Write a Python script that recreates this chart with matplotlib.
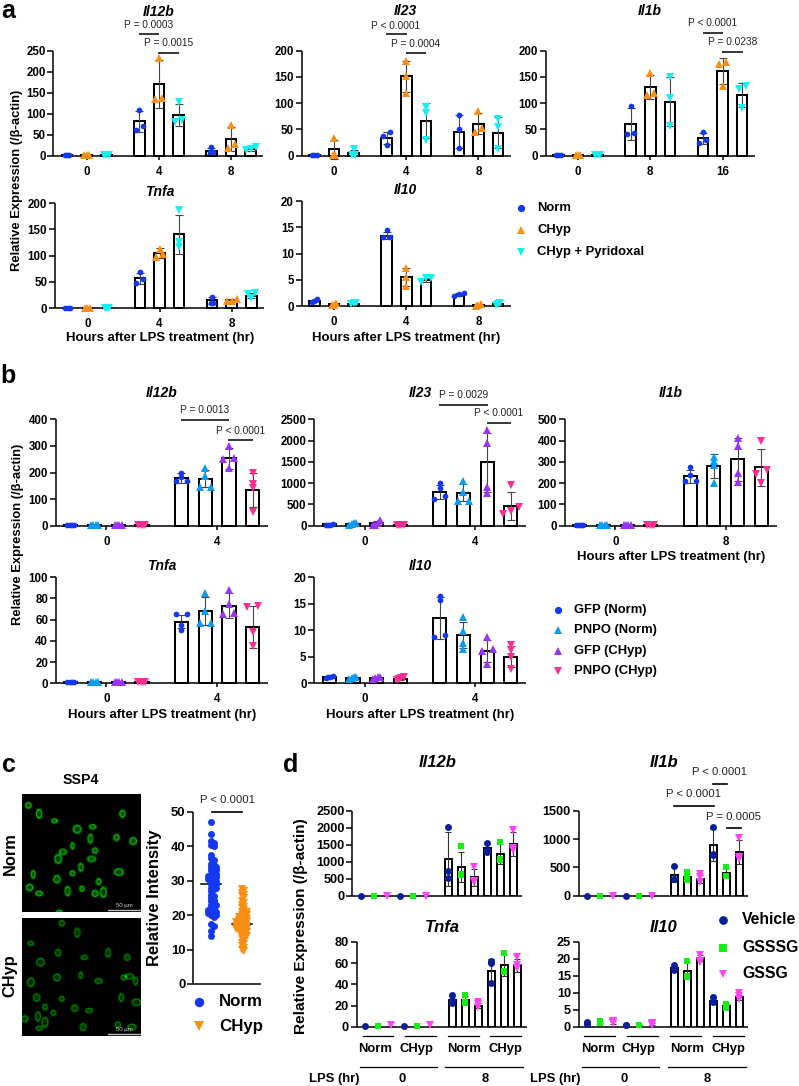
import numpy as np
import matplotlib
matplotlib.use("Agg")
import matplotlib.pyplot as plt

plt.rcParams["font.family"] = ["Liberation Sans", "DejaVu Sans"]

W, H = 799, 1086

# colours / markers
a_colors = ["#1438f0", "#f78f14", "#14f0f0"]
a_markers = ["o", "^", "v"]
a_labels = ["Norm", "CHyp", "CHyp + Pyridoxal"]
b_colors = ["#1438f0", "#0a9bf5", "#9933f5", "#ff2d92"]
b_markers = ["o", "^", "^", "v"]
b_labels = ["GFP (Norm)", "PNPO (Norm)", "GFP (CHyp)", "PNPO (CHyp)"]
d_colors = ["#0a1f96", "#14f014", "#ff44f5"]
d_markers = ["o", "s", "v"]
d_labels = ["Vehicle", "GSSSG", "GSSG"]

# panel a, values per hour group then per condition
a_il12b_means = [[1, 1, 2], [82, 170, 97], [12, 40, 15]]
a_il12b_errs = [[0, 0, 0], [25, 57, 27], [7, 28, 4]]
a_il12b_pts = [[[1, 1, 1], [0.5, 0.5, 0.5], [1, 1, 1]],
               [[108, 70, 62], [232, 138, 135], [128, 84, 80]],
               [[20, 8, 8], [72, 27, 18], [20, 16, 13]]]
a_il23_means = [[1, 12, 5], [34, 151, 67], [46, 61, 44]]
a_il23_errs = [[0, 18, 6], [12, 30, 34], [32, 20, 29]]
a_il23_pts = [[[1, 1, 1], [33, 1, 1], [12, 1, 2]],
              [[45, 38, 21], [180, 152, 119], [93, 82, 30]],
              [[78, 50, 14], [85, 52, 46], [70, 55, 12]]]
a_il1b_means = [[1, 1, 1], [60, 131, 103], [33, 162, 115]]
a_il1b_errs = [[0, 0, 0], [30, 23, 46], [11, 25, 23]]
a_il1b_pts = [[[1, 1, 1], [1, 1, 1], [1, 1, 1]],
              [[95, 44, 42], [158, 119, 115], [149, 110, 57]],
              [[46, 30, 25], [178, 175, 133], [133, 128, 91]]]
a_tnfa_means = [[1, 1, 1], [57, 105, 141], [15, 15, 24]]
a_tnfa_errs = [[0, 0, 0], [10, 9, 37], [6, 3, 5]]
a_tnfa_pts = [[[1, 1, 1], [1, 1, 1], [1, 1, 1]],
              [[68, 55, 49], [113, 104, 98], [186, 125, 117]],
              [[22, 11, 11], [18, 14, 14], [29, 28, 20]]]
a_il10_means = [[1, 0.4, 0.5], [13.4, 5.6, 5], [2.2, 0.2, 0.4]]
a_il10_errs = [[0.2, 0.1, 0.1], [0.7, 1.7, 0.4], [0.3, 0.1, 0.1]]
a_il10_pts = [[[1.4, 1.1, 0.8], [0.6, 0.3, 0.3], [0.7, 0.6, 0.5]],
              [[14.4, 13.2, 13.1], [7.3, 5.6, 3.9], [5.4, 5.3, 4.6]],
              [[2.6, 2.3, 2.0], [0.4, 0.2, 0.1], [0.6, 0.4, 0.3]]]

# panel b
b_il12b_means = [[1, 1, 1, 1], [179, 176, 253, 134]]
b_il12b_errs = [[0, 0, 0, 0], [18, 32, 38, 65]]
b_il12b_pts = [[[1, 1, 1, 1], [1, 1, 1, 1], [1, 1, 1, 1], [1, 1, 1, 1]],
               [[200, 184, 168, 168], [218, 185, 145, 145], [300, 253, 250, 218], [200, 158, 142, 50]]]
b_il23_means = [[30, 50, 60, 10], [790, 770, 1490, 470]]
b_il23_errs = [[15, 25, 50, 5], [170, 200, 690, 330]]
b_il23_pts = [[[50, 20, 20, 15], [70, 60, 40, 10], [130, 60, 20, 10], [10, 10, 10, 10]],
              [[1010, 880, 690, 620], [1050, 800, 590, 590], [2250, 1950, 900, 780], [950, 430, 350, 270]]]
b_il1b_means = [[1, 1, 1, 1], [233, 280, 312, 275]]
b_il1b_errs = [[0, 0, 0, 0], [30, 55, 100, 87]]
b_il1b_pts = [[[1, 1, 1, 1], [1, 1, 1, 1], [1, 1, 1, 1], [1, 1, 1, 1]],
              [[275, 240, 212, 212], [325, 305, 285, 200], [412, 375, 250, 205], [400, 260, 245, 200]]]
b_tnfa_means = [[1, 1, 1, 1], [58, 68, 73, 53]]
b_tnfa_errs = [[0, 0, 0, 0], [6, 13, 12, 20]]
b_tnfa_pts = [[[1, 1, 1, 1], [1, 1, 1, 1], [1, 1, 1, 1], [1, 1, 1, 1]],
              [[65, 65, 55, 50], [85, 68, 57, 57], [88, 75, 66, 65], [73, 72, 48, 35]]]
b_il10_means = [[1.1, 1.0, 1.0, 0.9], [12.3, 9.1, 6.1, 5.0]]
b_il10_errs = [[0.1, 0.1, 0.1, 0.2], [4, 2.5, 2, 2]]
b_il10_pts = [[[1.3, 1.2, 1.2, 1.0], [1.2, 1.1, 1.0, 0.9], [1.2, 1.1, 1.0, 0.8], [1.2, 1.0, 0.8, 0.7]],
              [[16.5, 15.6, 9.1, 8.8], [12.4, 9.9, 7.6, 6.5], [8.8, 6.5, 6.1, 3.7], [7.3, 6.3, 5.0, 2.7]]]

# panel c
c_norm = [47, 43.5, 41.5, 41, 40.5, 40, 37.5, 36.5, 36, 35, 34.5, 34, 34, 33.5, 33, 33, 32.5, 32, 32,
          31.5, 31.5, 31, 31, 30.5, 30.5, 30, 30, 29.5, 29, 29, 28.5, 28, 28, 27.5, 27, 26, 25.5, 25,
          24.5, 24, 23.5, 23, 23, 22.5, 22, 21.5, 21.5, 21, 21, 20.5, 20.5, 20, 20, 19.5, 17.5, 17, 15.5, 14]
c_chyp = [27.5, 27, 26.5, 26, 25.5, 25, 24, 23.5, 23, 22.5, 22, 21.5, 21, 21, 20.5, 20, 20, 19.5, 19.5,
          19, 19, 18.5, 18.5, 18, 18, 18, 17.5, 17.5, 17, 17, 17, 16.5, 16.5, 16, 16, 16, 15.5, 15.5,
          15, 15, 14.5, 14, 14, 13.5, 13, 12.5, 12, 11.5, 11, 10.5, 10, 9.5]
c_means = [29, 17.5]
c_colors = ["#1438f0", "#f78f14"]
# cell spots in the two micrographs, in fractions of the image
cells_norm = [(.05, .10), (.14, .17), (.27, .23), (.84, .17), (.46, .30), (.59, .28), (.57, .38),
              (.79, .37), (.93, .40), (.42, .44), (.34, .49), (.30, .55), (.61, .48), (.58, .55),
              (.09, .68), (.29, .72), (.42, .67), (.49, .62), (.81, .66), (.64, .74), (.06, .79),
              (.14, .84), (.38, .82), (.50, .80), (.61, .84), (.68, .83), (.31, 1.0)]
cells_chyp = [(.33, .04), (.46, .12), (.07, .21), (.30, .29), (.15, .37), (.52, .33), (.72, .29),
              (.88, .33), (.29, .50), (.49, .48), (.64, .53), (.07, .54), (.85, .50), (.90, .49),
              (.95, .53), (.12, .67), (.33, .68), (.83, .67), (.96, .71), (.19, .75), (.44, .76),
              (.56, .78), (.13, .83), (.26, .80), (.02, .85), (.19, .88), (.14, .93), (.51, .92), (.80, .90), (.92, .92)]
cell_radii = [2.6, 3.2, 2.2, 2.8, 3.6, 2.4, 3.0]
cell_stretch = [1.0, 1.25, 0.88, 1.1, 1.0, 0.85, 1.3, 1.05]

# panel d, two lots of six bars: 0 h then 8 h
d_il12b_means = [5, 5, 5, 5, 5, 5, 1080, 840, 540, 1400, 1230, 1530]
d_il12b_errs = [0, 0, 0, 0, 0, 0, 800, 450, 250, 150, 300, 350]
d_il12b_pts = [[5], [5], [5], [5], [5], [5], [2010, 730, 510], [1450, 650, 600], [830, 440, 400],
               [1540, 1350, 1300], [1570, 1070, 1050], [1930, 1400, 1330]]
d_il1b_means = [2, 2, 2, 2, 2, 2, 370, 330, 290, 890, 400, 770]
d_il1b_errs = [0, 0, 0, 0, 0, 0, 130, 70, 70, 280, 90, 210]
d_il1b_pts = [[2], [2], [2], [2], [2], [2], [530, 300, 290], [420, 360, 280], [390, 330, 250],
              [1210, 730, 710], [500, 350, 340], [1020, 680, 640]]
d_tnfa_means = [1, 1, 1, 1, 1, 1, 25, 25, 20, 53, 58, 58]
d_tnfa_errs = [0, 0, 0, 0, 0, 0, 4, 4, 2, 11, 10, 6]
d_tnfa_pts = [[1], [1], [1.5], [1], [1], [1.5], [30, 25, 22], [30, 23, 22], [23, 21, 19],
              [62, 60, 41], [70, 53, 52], [66, 58, 55]]
d_il10_means = [1, 1.3, 1.3, 0.6, 0.6, 0.8, 17.4, 16.5, 20.3, 7.7, 6, 8.7]
d_il10_errs = [0.3, 0.3, 0.4, 0, 0, 0.2, 0.6, 2.5, 1, 0.7, 0.6, 0.7]
d_il10_pts = [[1.5, 1, 0.8], [1.6, 1.3, 1], [1.8, 1.3, 1], [0.6, 0.5], [0.6, 0.5], [1, 0.7, 0.6],
              [18.2, 17.4, 16.8], [19.4, 15, 14.8], [21.3, 19.5, 19.2], [8.7, 7.5, 7.2], [6.8, 5.8, 5.5], [9.8, 9, 8.3]]

xlabel = "Hours after LPS treatment (hr)"
ylabel = "Relative Expression (/\u03b2-actin)"

fig = plt.figure(figsize=(W / 100, H / 100), dpi=100)
ov = fig.add_axes([0, 0, 1, 1], zorder=10)
ov.set_xlim(0, W)
ov.set_ylim(H, 0)
ov.axis("off")


def txt(x, y, s, size=8.3, weight="bold", ha="center", va="center", **kw):
    ov.text(x, y, s, fontsize=size, fontweight=weight, ha=ha, va=va, **kw)


def gene(x, y, s, size=10):
    txt(x, y, s, size=size, style="italic")


def pval(x, y, s, x0, x1, yl):
    txt(x, y, s, size=7.3, weight="normal", color="#222222")
    ov.plot([x0, x1], [yl, yl], color="k", lw=1.1, solid_capstyle="butt")


def legend(x_m, x_t, ys, labels, colors, markers, ms=5.0, size=9.4):
    for y, l, c, m in zip(ys, labels, colors, markers):
        ov.plot([x_m], [y], marker=m, color=c, ms=ms, mew=0, ls="none")
        txt(x_t, y, l, size=size, ha="left")


def make_axes(x0, ytop, x1, ybase, ymax, ystep, size=8.3):
    ax = fig.add_axes([x0 / W, 1 - ybase / H, (x1 - x0) / W, (ybase - ytop) / H])
    ax.patch.set_alpha(0)
    ax.set_ylim(0, ymax)
    ax.set_yticks(np.arange(0, ymax + ystep / 2, ystep))
    for s in ["top", "right"]:
        ax.spines[s].set_visible(False)
    for s in ["left", "bottom"]:
        ax.spines[s].set_linewidth(1.1)
        ax.spines[s].set_capstyle("butt")
    ax.tick_params(axis="y", length=4.4, width=1.1, pad=1.2, labelsize=size)
    ax.tick_params(axis="x", length=3, width=1.1, pad=4.2, labelsize=size)
    for t in ax.get_yticklabels() + ax.get_xticklabels():
        t.set_fontweight("bold")
    return ax


def spread(vals, px_per_unit, pair_px, tight_px=2.3, near=4.2):
    # side by side offsets for points that sit at about the same height
    order = np.argsort(vals)
    vals = np.asarray(vals, dtype=float)
    out = np.zeros(len(vals))
    cl = [order[0]]
    clusters = []
    for i in order[1:]:
        if (vals[i] - vals[cl[-1]]) * px_per_unit < near:
            cl.append(i)
        else:
            clusters.append(cl)
            cl = [i]
    clusters.append(cl)
    for cl in clusters:
        step = tight_px if vals[cl].max() * px_per_unit < 8 else pair_px
        if len(cl) > 2 and step == pair_px:
            step = pair_px * 0.7
        for k, i in enumerate(cl):
            out[i] = (k - (len(cl) - 1) / 2) * step
    return out


def grouped(x0, ytop, x1, ybase, ymax, ystep, g0, sp, off, bw, glabels, means, errs, pts,
            colors, markers, pair_px, ms=(5.7, 7.4), lw=1.45):
    ax = make_axes(x0, ytop, x1, ybase, ymax, ystep)
    ax.set_xlim((x0 - g0) / sp, (x1 - g0) / sp)
    ax.set_xticks(range(len(glabels)))
    ax.set_xticklabels(glabels, fontweight="bold")
    ppu = (ybase - ytop) / ymax
    n = len(colors)
    for g in range(len(glabels)):
        for k in range(n):
            x = g + (k - (n - 1) / 2) * off / sp
            ax.bar(x, means[g][k], bw / sp, facecolor="white", edgecolor="k", lw=lw, zorder=2, clip_on=False)
            ax.errorbar(x, means[g][k], yerr=errs[g][k], color="#444444", lw=0.8, capsize=3.2, capthick=0.8, zorder=3, clip_on=False)
            dx = spread(pts[g][k], ppu, pair_px) / sp
            size = ms[0] if markers[k] == "o" else ms[1]
            ax.plot(x + dx, pts[g][k], ls="none", marker=markers[k], color=colors[k], ms=size * 0.72, mew=0, zorder=4, clip_on=False)
    return ax


def six_six(x0, ytop, x1, ybase, ymax, ystep, first, means, errs, pts):
    slot = 13.05
    ax = make_axes(x0, ytop, x1, ybase, ymax, ystep, size=9.2)
    ax.set_xlim((x0 - first) / slot, (x1 - first) / slot)
    ax.set_xticks([])
    for i in range(12):
        x = i + (0.67 if i >= 6 else 0)
        c = d_colors[i % 3]
        m = d_markers[i % 3]
        if i >= 6:
            ax.bar(x, means[i], 7.0 / slot, facecolor="white", edgecolor="k", lw=1.4, zorder=2)
        ax.errorbar(x, means[i], yerr=errs[i], color="#333333", lw=0.8, capsize=2.2, capthick=0.8, zorder=3, clip_on=False)
        ax.plot([x] * len(pts[i]), pts[i], ls="none", marker=m, color=c, ms=5.0 if m != "v" else 6.2, mew=0, zorder=4, clip_on=False)
    return ax


def micrograph(cells, top, amp):
    # green stain picture, one soft ring for every cell spot
    n = 118
    yy, xx = np.mgrid[0:n, 0:n]
    img = np.zeros((n, n))
    for i, (cx, cy) in enumerate(cells):
        r0 = cell_radii[i % len(cell_radii)]
        st = cell_stretch[i % len(cell_stretch)]
        dx = (xx - cx * n) * st
        dy = (yy - cy * n) / st
        r = np.hypot(dx, dy)
        img += amp * (np.exp(-((r - r0) / 1.0) ** 2) + 0.35 * np.exp(-(r / r0) ** 2))
    rgb = np.zeros((n, n, 3))
    rgb[..., 1] = np.clip(img, 0, 0.85)
    rgb[..., 0] = rgb[..., 2] = np.clip(img - 0.55, 0, 1) * 0.4
    im = fig.add_axes([22.3 / W, 1 - (top + 118) / H, 118.4 / W, 118 / H])
    im.imshow(rgb, extent=(0, 1, 1, 0), aspect="auto", interpolation="bilinear")
    im.set_xticks([])
    im.set_yticks([])
    for s in im.spines.values():
        s.set_visible(False)
    im.plot([.72, .99], [.985, .985], color="#bbbbbb", lw=1.0)
    im.set_xlim(0, 1)
    im.set_ylim(1, 0)
    im.text(.86, .945, "50 \u00b5m", color="#cfcfcf", fontsize=4.3, ha="center", va="center")


# panel a
grouped(53.3, 50.7, 263, 155.7, 250, 50, 86.7, 72.2, 19.6, 10.6, ["0", "4", "8"], a_il12b_means, a_il12b_errs, a_il12b_pts, a_colors, a_markers, 7)
grouped(301.7, 50.7, 511, 155.7, 200, 50, 334, 72.2, 19.6, 10.6, ["0", "4", "8"], a_il23_means, a_il23_errs, a_il23_pts, a_colors, a_markers, 7)
grouped(545.7, 50.7, 755, 155.7, 200, 50, 578, 72.3, 19.6, 10.6, ["0", "8", "16"], a_il1b_means, a_il1b_errs, a_il1b_pts, a_colors, a_markers, 7)
grouped(55, 203, 264, 308.3, 200, 50, 87.3, 72.2, 19.6, 10.6, ["0", "4", "8"], a_tnfa_means, a_tnfa_errs, a_tnfa_pts, a_colors, a_markers, 7)
grouped(301.7, 201, 511, 306.3, 20, 5, 334, 72.2, 19.6, 10.6, ["0", "4", "8"], a_il10_means, a_il10_errs, a_il10_pts, a_colors, a_markers, 7)

# panel b
grouped(56, 419.3, 267.7, 525.7, 400, 100, 106.3, 110.7, 23.7, 13.3, ["0", "4"], b_il12b_means, b_il12b_errs, b_il12b_pts, b_colors, b_markers, 11)
grouped(314.3, 419.3, 526, 525.7, 2500, 500, 364.7, 110.6, 23.7, 13.3, ["0", "4"], b_il23_means, b_il23_errs, b_il23_pts, b_colors, b_markers, 11)
grouped(564.7, 419.3, 776.7, 525.7, 500, 100, 615.3, 110.4, 23.7, 13.3, ["0", "8"], b_il1b_means, b_il1b_errs, b_il1b_pts, b_colors, b_markers, 11)
grouped(56, 577, 267.7, 683.3, 100, 20, 106.3, 110.7, 23.7, 13.3, ["0", "4"], b_tnfa_means, b_tnfa_errs, b_tnfa_pts, b_colors, b_markers, 11)
grouped(314.3, 577, 526, 683.3, 20, 5, 364.7, 110.6, 23.7, 13.3, ["0", "4"], b_il10_means, b_il10_errs, b_il10_pts, b_colors, b_markers, 11)

# panel c micrographs
micrograph(cells_norm, 794, 0.62)
micrograph(cells_chyp, 918, 0.42)

# panel c scatter
axc = make_axes(193.3, 812, 261, 984, 50, 10, size=9.4)
axc.set_xlim((193.3 - 211) / 30.7, (261 - 211) / 30.7)
axc.set_xticks([])
ppu_c = 172 / 50
for g, (vals, m) in enumerate([(c_norm, "o"), (c_chyp, "v")]):
    placed = []
    dx = []
    for v in sorted(vals, reverse=True):
        for o in [0, 2.7, -2.7, 5.4, -5.4, 8.1, -8.1, 9.5]:
            if all((o - p[0]) ** 2 + ((v - p[1]) * ppu_c) ** 2 > 3.0 ** 2 for p in placed):
                break
        placed.append((o, v))
        dx.append(o)
    axc.plot(g + np.array(dx) / 30.7, sorted(vals, reverse=True), ls="none", marker=m, color=c_colors[g], ms=5.0 if m == "o" else 6.0, mew=0, zorder=3, clip_on=False)
    axc.plot([g - 0.32, g + 0.32], [c_means[g], c_means[g]], color="k", lw=1.1, zorder=2)

# panel d
six_six(352.3, 810.7, 522, 895.7, 2500, 500, 361, d_il12b_means, d_il12b_errs, d_il12b_pts)
six_six(578.7, 810.7, 748.3, 895.7, 1500, 500, 587, d_il1b_means, d_il1b_errs, d_il1b_pts)
six_six(356.7, 942, 526.7, 1026.7, 80, 20, 365, d_tnfa_means, d_tnfa_errs, d_tnfa_pts)
six_six(578.7, 942, 748.3, 1026.7, 25, 5, 587, d_il10_means, d_il10_errs, d_il10_pts)

# panel letters
for x, y, s in [(8, 18.5, "a"), (8, 383, "b"), (9, 771.7, "c"), (291, 771.7, "d")]:
    txt(x, y, s, size=18, va="baseline")

# titles
for x, y, s in [(159, 12, "Il12b"), (405, 11, "Il23"), (650, 11, "Il1b"), (160, 192, "Tnfa"), (405, 190, "Il10"),
                (162, 393, "Il12b"), (420.7, 393, "Il23"), (671, 393, "Il1b"), (162, 566, "Tnfa"), (420.7, 566, "Il10")]:
    gene(x, y, s)
for x, y, s in [(438, 762.7, "Il12b"), (664, 762.7, "Il1b"), (442, 927.7, "Tnfa"), (664, 928, "Il10")]:
    gene(x, y, s, size=12)

# axis titles
txt(17, 180, ylabel, size=9.4, rotation=90)
txt(18, 534, ylabel, size=9.4, rotation=90)
txt(301, 926, ylabel, size=11.05, rotation=90)
for x, y in [(160, 337.5), (406.5, 337.5), (162, 714.7), (420, 714.7), (670.7, 557)]:
    txt(x, y, xlabel, size=9.45)

# p values
pval(149, 25, "P = 0.0003", 138.7, 159.3, 34.3)
pval(169, 43.3, "P = 0.0015", 158.3, 179, 52.7)
pval(396, 25.7, "P < 0.0001", 386, 406.7, 34.3)
pval(416, 44, "P = 0.0004", 406, 426, 53)
pval(712.8, 23.3, "P < 0.0001", 702.7, 723.3, 33)
pval(732.5, 41.7, "P = 0.0238", 722.3, 742.7, 51.7)
pval(205, 409.7, "P = 0.0013", 181.3, 229.3, 419.7)
pval(240.3, 431, "P < 0.0001", 228.3, 252.7, 440.3)
pval(463.3, 395, "P = 0.0029", 439.3, 487.7, 405)
pval(498.7, 413.3, "P < 0.0001", 486.7, 511, 423.3)
txt(227, 800, "P < 0.0001", size=8.2, weight="normal", color="#222222")
ov.plot([211.7, 242.3], [811.7, 811.7], color="k", lw=1.2)
for x, y, s, x0, x1, yl in [(720, 772.3, "P < 0.0001", 713.3, 727.3, 784.3),
                            (693.3, 794, "P < 0.0001", 674, 714.3, 806),
                            (733, 816.7, "P = 0.0005", 726.7, 740.7, 828)]:
    txt(x, y, s, size=8.2, weight="normal", color="#222222")
    ov.plot([x0, x1], [yl, yl], color="k", lw=1.2)

# legends
legend(520.7, 537, [208, 230, 252], a_labels, a_colors, a_markers, ms=5.2)
legend(557.7, 574, [609.7, 630.3, 650.7, 671], b_labels, b_colors, b_markers, ms=5.2)
legend(199.3, 219, [1001.7, 1026], ["Norm", "CHyp"], c_colors, ["o", "v"], ms=6.8, size=12.2)
legend(722.7, 742.3, [920, 947.7, 974], d_labels, d_colors, d_markers, ms=6.3, size=11.3)

# panel c labels
txt(81, 780, "SSP4", size=10.2)
txt(10, 854, "Norm", size=11.8, rotation=90)
txt(10, 976, "CHyp", size=11.8, rotation=90)
txt(154, 898, "Relative Intensity", size=12, rotation=90)

# panel d group labels under the two bottom charts
norm_chyp = ["Norm", "CHyp", "Norm", "CHyp"]
for lines, cents, longs, hrs in [
        ([(362.7, 393.3), (405, 436), (447.7, 478.7), (490, 521)], [375, 416.7, 464, 505.7], [(360, 436.7), (445.3, 523)], [402, 485]),
        ([(584.3, 615.3), (627, 658), (670, 701), (712.7, 743.7)], [597.7, 638.7, 687.3, 728.3], [(581.7, 659.3), (667.7, 745.7)], [624, 707])]:
    for (a, b), c, s in zip(lines, cents, norm_chyp):
        ov.plot([a, b], [1036, 1036], color="k", lw=0.9)
        txt(c, 1049, s, size=9.4)
    for (a, b), c, s in zip(longs, hrs, ["0", "8"]):
        ov.plot([a, b], [1066.7, 1066.7], color="k", lw=0.9)
        txt(c, 1078.7, s, size=9.4)
txt(359.3, 1078.7, "LPS (hr)", size=9.4, ha="right")
txt(581, 1078.7, "LPS (hr)", size=9.4, ha="right")

plt.savefig("out.png", dpi=100)
